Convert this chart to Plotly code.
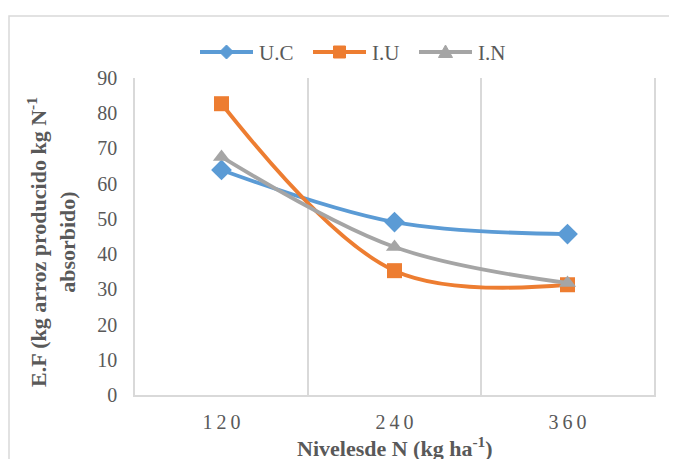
import plotly.graph_objects as go

categories = ["120", "240", "360"]
uc_values = [63.9, 49.1, 45.7]
iu_values = [82.7, 35.3, 31.3]
in_values = [67.6, 42.0, 31.8]
series_names = ["U.C", "I.U", "I.N"]

FONT = "Liberation Serif"
GRAY = "#595959"
GRID = "#D9D9D9"
COLORS = ["#5B9BD5", "#ED7D31", "#A5A5A5"]
SYMBOLS = ["diamond", "square", "triangle-up"]
SIZES = [16, 15, 15]

# plot area in screen px (page has an 8px body offset, compensated via margins)
PL, PR, PT, PB = 135, 654, 78, 395
PW, PH = PR - PL, PB - PT
OFF = 8

def px_x(x):
    return (x - PL) / PW

def px_y(y):
    return (PB - y) / PH

fig = go.Figure()
for name, vals, col, sym, sz in zip(series_names, [uc_values, iu_values, in_values],
                                   COLORS, SYMBOLS, SIZES):
    fig.add_trace(go.Scatter(
        x=categories, y=vals, name=name, mode="lines+markers", showlegend=False,
        line=dict(color=col, width=3.8, shape="spline", smoothing=1.0),
        marker=dict(symbol=sym, size=sz, color=col),
    ))

ticktext = ["\u2009".join(c) for c in categories]

fig.update_layout(
    width=677, height=459,
    margin=dict(l=PL - OFF, r=677 - (PR - OFF), t=PT - OFF, b=459 - (PB - OFF)),
    paper_bgcolor="white", plot_bgcolor="white",
    font=dict(family=FONT, color=GRAY, size=20),
    showlegend=False,
    xaxis=dict(
        type="category", range=[-0.5, 2.5], tickmode="array",
        tickvals=categories, ticktext=ticktext, automargin=False,
        tickson="boundaries", ticks="", showgrid=True, gridcolor=GRID, gridwidth=1.5,
        showline=True, linecolor=GRID, linewidth=1.5, zeroline=False,
        tickfont=dict(family=FONT, size=20, color=GRAY), ticklabelstandoff=8,
    ),
    yaxis=dict(
        range=[0, 90], dtick=10, showgrid=False, zeroline=False,
        showline=True, mirror=True, linecolor=GRID, linewidth=1.5, automargin=False,
        ticks="", tickfont=dict(family=FONT, size=20, color=GRAY), ticklabelstandoff=12,
    ),
)

# legend drawn by hand (Excel style: long line with marker in the middle)
LEG_Y = 52
leg_starts = [200, 313, 419]
LINE_LEN = 53
marker_paths = {
    "diamond": "M -7 0 L 0 7 L 7 0 L 0 -7 Z",
    "square": "M -6 -6 L 6 -6 L 6 6 L -6 6 Z",
    "triangle-up": "M -7 -5.5 L 7 -5.5 L 0 7 Z",
}
for name, col, sym, x0 in zip(series_names, COLORS, SYMBOLS, leg_starts):
    fig.add_shape(type="line", xref="paper", yref="paper",
                  x0=px_x(x0), x1=px_x(x0 + LINE_LEN), y0=px_y(LEG_Y), y1=px_y(LEG_Y),
                  line=dict(color=col, width=4))
    fig.add_shape(type="path", xref="paper", yref="paper",
                  xsizemode="pixel", ysizemode="pixel",
                  xanchor=px_x(x0 + LINE_LEN / 2), yanchor=px_y(LEG_Y),
                  path=marker_paths[sym], fillcolor=col, line=dict(color=col, width=1))
    fig.add_annotation(text=name, xref="paper", yref="paper",
                       x=px_x(x0 + LINE_LEN + 4), y=px_y(LEG_Y + 1), xanchor="left", yanchor="middle",
                       showarrow=False, font=dict(family=FONT, size=21, color=GRAY))

fig.add_annotation(
    text="<b>E.F (kg arroz producido kg N<sup>-1</sup><br>absorbido)</b>",
    xref="paper", yref="paper", x=px_x(51), y=px_y(242), xanchor="center", yanchor="middle",
    textangle=-90, showarrow=False, font=dict(family=FONT, size=22, color=GRAY),
)
fig.add_annotation(
    text="<b>Nivelesde N (kg ha<sup>-1</sup>)</b>",
    xref="paper", yref="paper", x=px_x(395), y=px_y(447), xanchor="center", yanchor="middle",
    showarrow=False, font=dict(family=FONT, size=22, color=GRAY),
)

# outer chart border (extends beyond the window at right/bottom)
fig.add_shape(type="rect", xref="paper", yref="paper",
              x0=px_x(9), x1=px_x(700), y0=px_y(480), y1=px_y(16),
              line=dict(color=GRID, width=1.5), fillcolor="rgba(0,0,0,0)", layer="below")

fig.write_html("out.html")
